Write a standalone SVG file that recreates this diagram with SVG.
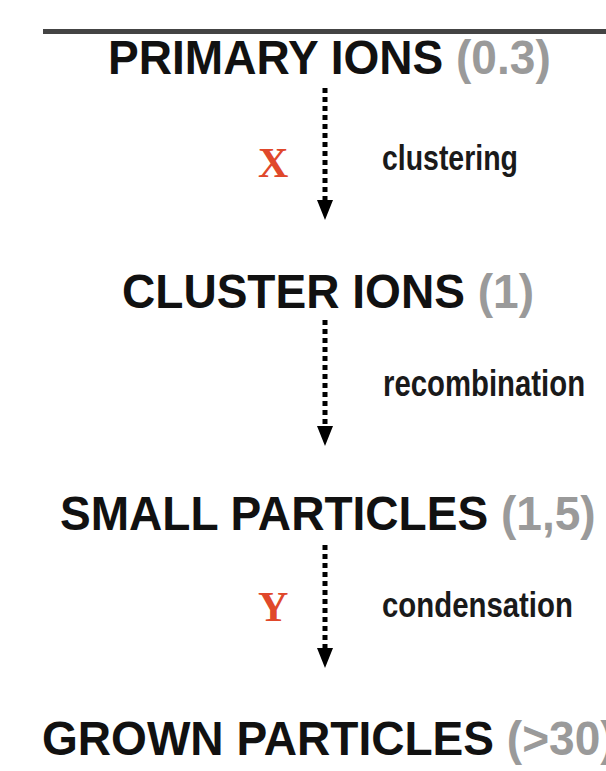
<svg xmlns="http://www.w3.org/2000/svg" width="606" height="771" viewBox="0 0 606 771">
<defs>
<style>
.title{font-family:"Liberation Sans",Arial,sans-serif;font-weight:bold;font-size:49px;fill:#111}
.num{fill:#9a9a9a}
.lbl{font-family:"Liberation Sans",Arial,sans-serif;font-weight:bold;font-size:36px;fill:#1a1a1a}
.var{font-family:"Liberation Serif","Times New Roman",serif;font-weight:bold;font-size:42px;fill:#e0482b}
.dot{stroke:#000;stroke-width:5;stroke-dasharray:5 4;fill:none}
.head{fill:#000}
</style>
</defs>
<rect x="43" y="29" width="563" height="5" fill="#444"/>
<g id="primary-ions"><text class="title" transform="translate(108,74) scale(0.94,1)">PRIMARY IONS <tspan class="num">(0.3)</tspan></text></g>
<g id="cluster-ions"><text class="title" transform="translate(122,308) scale(0.94,1)">CLUSTER IONS <tspan class="num">(1)</tspan></text></g>
<g id="small-particles"><text class="title" transform="translate(60,530) scale(0.94,1)">SMALL PARTICLES <tspan class="num">(1,5)</tspan></text></g>
<g id="grown-particles"><text class="title" transform="translate(42,755) scale(0.94,1)">GROWN PARTICLES <tspan class="num">(&gt;30)</tspan></text></g>
<g id="connectors">
<line class="dot" x1="325" y1="88" x2="325" y2="200"/>
<polygon class="head" points="317,200 333,200 325,220"/>
<line class="dot" x1="325" y1="320" x2="325" y2="426"/>
<polygon class="head" points="317,426 333,426 325,446"/>
<line class="dot" x1="325" y1="545" x2="325" y2="648"/>
<polygon class="head" points="317,648 333,648 325,668"/>
</g>
<g id="labels">
<text class="var" x="258" y="177">X</text>
<text class="lbl" transform="translate(382,170) scale(0.79,1)">clustering</text>
<text class="lbl" transform="translate(383,396) scale(0.815,1)">recombination</text>
<text class="var" x="258" y="621">Y</text>
<text class="lbl" transform="translate(382,617) scale(0.816,1)">condensation</text>
</g>
</svg>
